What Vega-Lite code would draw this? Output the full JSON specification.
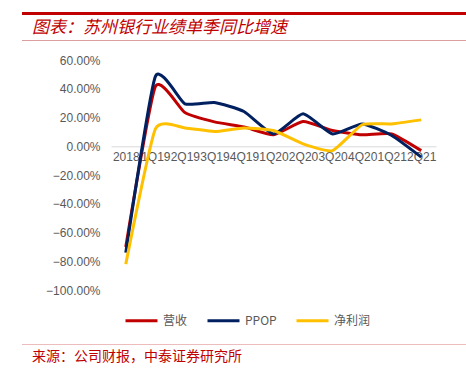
{
  "$schema": "https://vega.github.io/schema/vega-lite/v6.json",
  "padding": {"left": 22, "top": 12, "right": 0, "bottom": 0},
  "spacing": 4,
  "config": {"view": {"stroke": null}, "font": "Liberation Sans"},
  "resolve": {"scale": {"color": "independent"}, "legend": {"color": "independent"}},
  "datasets": {
    "perf": [
      {"q": "2018", "s": "营收", "v": -70},
      {"q": "1Q19", "s": "营收", "v": 41.5},
      {"q": "2Q19", "s": "营收", "v": 23.5},
      {"q": "3Q19", "s": "营收", "v": 17},
      {"q": "4Q19", "s": "营收", "v": 13.5},
      {"q": "1Q20", "s": "营收", "v": 8},
      {"q": "2Q20", "s": "营收", "v": 17.2},
      {"q": "3Q20", "s": "营收", "v": 11},
      {"q": "4Q20", "s": "营收", "v": 8},
      {"q": "1Q21", "s": "营收", "v": 8.6},
      {"q": "2Q21", "s": "营收", "v": -3},
      {"q": "2018", "s": "PPOP", "v": -74},
      {"q": "1Q19", "s": "PPOP", "v": 48.5},
      {"q": "2Q19", "s": "PPOP", "v": 29.6},
      {"q": "3Q19", "s": "PPOP", "v": 30.5},
      {"q": "4Q19", "s": "PPOP", "v": 24.2},
      {"q": "1Q20", "s": "PPOP", "v": 8.6},
      {"q": "2Q20", "s": "PPOP", "v": 22.6},
      {"q": "3Q20", "s": "PPOP", "v": 8.6},
      {"q": "4Q20", "s": "PPOP", "v": 15.6},
      {"q": "1Q21", "s": "PPOP", "v": 7.5},
      {"q": "2Q21", "s": "PPOP", "v": -7.5},
      {"q": "2018", "s": "净利润", "v": -82},
      {"q": "1Q19", "s": "净利润", "v": 12},
      {"q": "2Q19", "s": "净利润", "v": 12.8},
      {"q": "3Q19", "s": "净利润", "v": 10.3},
      {"q": "4Q19", "s": "净利润", "v": 12.8},
      {"q": "1Q20", "s": "净利润", "v": 11},
      {"q": "2Q20", "s": "净利润", "v": 1.7},
      {"q": "3Q20", "s": "净利润", "v": -3},
      {"q": "4Q20", "s": "净利润", "v": 15},
      {"q": "1Q21", "s": "净利润", "v": 15.6},
      {"q": "2Q21", "s": "净利润", "v": 18.4}
    ]
  },
  "vconcat": [
    {
      "width": 444, "height": 3,
      "data": {"values": []},
      "mark": "point",
      "view": {"fill": "#C00000", "stroke": null}
    },
    {
      "width": 444, "height": 1,
      "data": {"values": []},
      "mark": "point",
      "view": {"fill": "#DC9E9E", "stroke": null},
      "title": {
        "text": "图表：苏州银行业绩单季同比增速",
        "orient": "top", "anchor": "start", "dx": 10, "offset": 3,
        "font": "Noto Sans CJK SC", "fontSize": 17, "fontStyle": "italic",
        "fontWeight": "normal", "color": "#C00000"
      }
    },
    {
      "spacing": 0,
      "resolve": {"scale": {"color": "independent"}, "legend": {"color": "independent"}},
      "hconcat": [
        {
          "width": 1, "height": 245,
          "data": {"values": []},
          "mark": "point"
        },
        {
          "width": 325, "height": 245,
          "data": {"name": "perf"},
          "mark": {"type": "line", "interpolate": "cardinal", "tension": 0.5, "strokeWidth": 3},
          "encoding": {
            "x": {
              "field": "q", "type": "ordinal", "sort": null,
              "scale": {"type": "point", "padding": 0.5},
              "axis": {
                "title": null, "labelAngle": 0, "offset": -143.7,
                "domainColor": "#D9D9D9", "domainWidth": 1, "ticks": false,
                "labelPadding": 5, "labelFont": "Liberation Sans", "labelFontSize": 12,
                "labelColor": "#595959", "labelOverlap": false, "grid": false
              }
            },
            "y": {
              "field": "v", "type": "quantitative",
              "scale": {"domain": [-100, 70.5], "nice": false, "zero": false},
              "axis": {
                "title": null,
                "values": [-100, -80, -60, -40, -20, 0, 20, 40, 60],
                "labelExpr": "format(datum.value, '.2f') + '%'",
                "grid": false, "domain": false, "ticks": false,
                "labelPadding": 11, "minExtent": 88,
                "labelFont": "Liberation Sans", "labelFontSize": 12, "labelColor": "#595959"
              }
            },
            "color": {
              "field": "s", "type": "nominal",
              "scale": {"domain": ["营收", "PPOP", "净利润"], "range": ["#C00000", "#002060", "#FFC000"]},
              "legend": {
                "title": null, "orient": "bottom", "direction": "horizontal",
                "symbolType": "stroke", "symbolSize": 1024, "symbolStrokeWidth": 3,
                "labelFont": "Noto Sans CJK SC", "labelFontSize": 12, "labelColor": "#595959",
                "labelOffset": 4, "columnPadding": 13, "padding": 13, "offset": 0
              }
            }
          }
        }
      ]
    },
    {
      "width": 444, "height": 1,
      "data": {"values": []},
      "mark": "point",
      "view": {"fill": "#EDBDBD", "stroke": null},
      "title": {
        "text": "来源：公司财报，中泰证券研究所",
        "orient": "bottom", "anchor": "start", "dx": 10, "offset": 5,
        "font": "Noto Sans CJK SC", "fontSize": 14, "fontWeight": "normal", "color": "#C00000"
      }
    }
  ]
}
